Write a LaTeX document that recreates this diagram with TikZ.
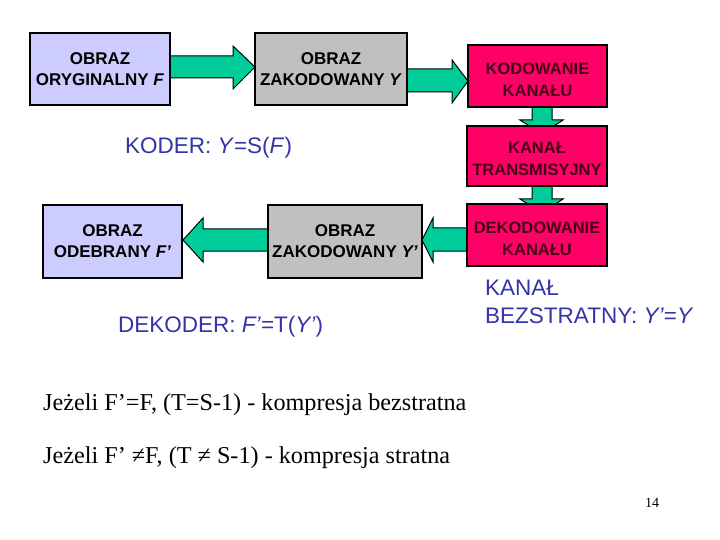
\documentclass[tikz,border=0pt]{standalone}
\usepackage{fontspec}
\setmainfont{Liberation Serif}
\newfontfamily\arial{Liberation Sans}
\definecolor{lav}{RGB}{204,204,255}
\definecolor{grayb}{RGB}{192,192,192}
\definecolor{pinkb}{RGB}{255,0,102}
\definecolor{arrowg}{RGB}{0,204,153}
\definecolor{bluet}{RGB}{51,51,170}
\definecolor{darkwine}{RGB}{70,0,25}
\begin{document}
\begin{tikzpicture}[x=1pt,y=-1pt,
  box/.style={draw=black, line width=1.3pt, inner sep=0pt, align=center,
    font=\arial\bfseries\fontsize{17}{21}\selectfont},
  lavbox/.style={box, fill=lav},
  graybox/.style={box, fill=grayb},
  pinkbox/.style={box, fill=pinkb},
  pinktext/.style={inner sep=0pt, align=center, text=darkwine,
    font=\arial\bfseries\fontsize{16.5}{22.5}\selectfont},
  barrow/.style={draw=black, line width=1pt, fill=arrowg, line join=miter},
  bluelab/.style={text=bluet, font=\arial\fontsize{22.5}{28}\selectfont,
    anchor=base west, inner sep=0pt},
  note/.style={font=\fontsize{24.2}{28}\selectfont, anchor=base west, inner sep=0pt}]
\useasboundingbox (0,0) rectangle (720,540);
\fill[white] (0,0) rectangle (720,540);

% block arrows (drawn first, boxes cover their ends)
\draw[barrow] (170,56) -- (233,56) -- (233,46) -- (255,67) -- (233,89) -- (233,78) -- (170,78) -- cycle;
\draw[barrow] (407,69) -- (452,69) -- (452,60) -- (468,81) -- (452,103) -- (452,92) -- (407,92) -- cycle;
\draw[barrow] (532,107) -- (532,120) -- (520,120) -- (542,134) -- (563,120) -- (552,120) -- (552,107) -- cycle;
\draw[barrow] (532,186) -- (532,199) -- (520,199) -- (542,213) -- (563,199) -- (552,199) -- (552,186) -- cycle;
\draw[barrow] (467,228) -- (433,228) -- (433,218) -- (422,240) -- (433,262) -- (433,251) -- (467,251) -- cycle;
\draw[barrow] (268,229) -- (203,229) -- (203,218) -- (183,240) -- (203,262) -- (203,251) -- (268,251) -- cycle;

% boxes
\node[lavbox, minimum width=140pt, minimum height=72pt] (b1) at (100,69) {OBRAZ\\ORYGINALNY \textit{F}};
\node[graybox, minimum width=152pt, minimum height=72pt] (b2) at (331,69) {OBRAZ\\ZAKODOWANY \textit{Y}};
\node[pinkbox, minimum width=139pt, minimum height=62pt] (b3) at (537.5,76) {};
\node[pinktext] (t3) at ([yshift=-4pt]b3.center) {KODOWANIE\\KANAŁU};
\node[pinkbox, minimum width=140pt, minimum height=60pt] (b4) at (537,156) {};
\node[pinktext] (t4) at ([yshift=-3pt]b4.center) {KANAŁ\\TRANSMISYJNY};
\node[pinkbox, minimum width=140pt, minimum height=62pt] (b5) at (537,235) {};
\node[pinktext] (t5) at ([yshift=-4pt]b5.center) {DEKODOWANIE\\KANAŁU};
\node[graybox, minimum width=154pt, minimum height=73pt] (b6) at (345,241.5) {OBRAZ\\ZAKODOWANY \textit{Y’}};
\node[lavbox, minimum width=139pt, minimum height=73pt] (b7) at (112.5,241.5) {OBRAZ\\ODEBRANY \textit{F’}};

% blue labels
\node[bluelab] (koder) at (125,154) {KODER: \textit{Y}=S(\textit{F})};
\node[bluelab] (dekoder) at (118,332) {DEKODER: \textit{F’}=T(\textit{Y’})};
\node[bluelab] (kanal) at (485,295) {KANAŁ};
\node[bluelab] (bezstr) at (485,323) {BEZSTRATNY: \textit{Y’}=\textit{Y}};

% notes
\node[note] (n1) at (43,410) {Jeżeli F’=F, (T=S-1) - kompresja bezstratna};
\node[note] (n2) at (43,463) {Jeżeli F’ ≠F, (T ≠ S-1) - kompresja stratna};
\node[font=\fontsize{14}{16}\selectfont, anchor=base, inner sep=0pt] (pg) at (652,507) {14};
\end{tikzpicture}
\end{document}
